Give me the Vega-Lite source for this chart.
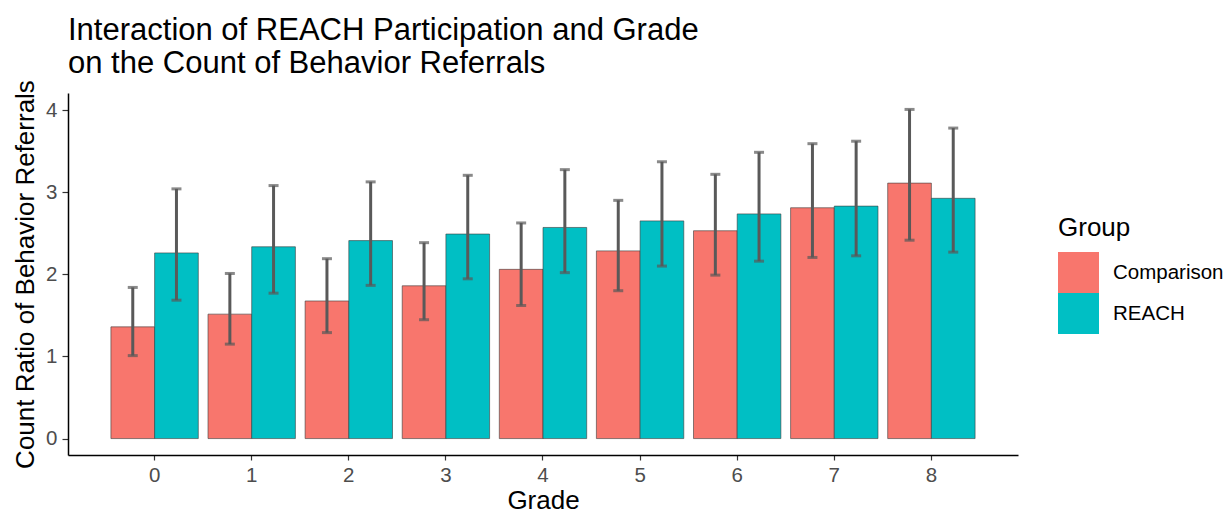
{
  "$schema": "https://vega.github.io/schema/vega-lite/v6.json",
  "width": 950,
  "height": 362,
  "autosize": {"type": "none"},
  "padding": {"left": 68, "top": 93, "right": 210, "bottom": 59},
  "background": "white",
  "config": {
    "font": "Liberation Sans",
    "view": {"stroke": null}
  },
  "title": {
    "text": ["Interaction of REACH Participation and Grade", "on the Count of Behavior Referrals"],
    "fontSize": 31,
    "fontWeight": "normal",
    "color": "black",
    "anchor": "start",
    "frame": "group",
    "lineHeight": 33,
    "offset": 0
  },
  "data": {
    "values": [
      {"grade": "0", "group": "Comparison", "ratio": 1.36, "lo": 1.01, "hi": 1.84},
      {"grade": "0", "group": "REACH", "ratio": 2.26, "lo": 1.685, "hi": 3.04},
      {"grade": "1", "group": "Comparison", "ratio": 1.515, "lo": 1.15, "hi": 2.01},
      {"grade": "1", "group": "REACH", "ratio": 2.335, "lo": 1.77, "hi": 3.08},
      {"grade": "2", "group": "Comparison", "ratio": 1.675, "lo": 1.29, "hi": 2.19},
      {"grade": "2", "group": "REACH", "ratio": 2.41, "lo": 1.865, "hi": 3.125},
      {"grade": "3", "group": "Comparison", "ratio": 1.86, "lo": 1.447, "hi": 2.385},
      {"grade": "3", "group": "REACH", "ratio": 2.49, "lo": 1.945, "hi": 3.205},
      {"grade": "4", "group": "Comparison", "ratio": 2.06, "lo": 1.62, "hi": 2.625},
      {"grade": "4", "group": "REACH", "ratio": 2.57, "lo": 2.02, "hi": 3.274},
      {"grade": "5", "group": "Comparison", "ratio": 2.285, "lo": 1.8, "hi": 2.9},
      {"grade": "5", "group": "REACH", "ratio": 2.65, "lo": 2.1, "hi": 3.37},
      {"grade": "6", "group": "Comparison", "ratio": 2.53, "lo": 1.99, "hi": 3.217},
      {"grade": "6", "group": "REACH", "ratio": 2.735, "lo": 2.16, "hi": 3.485},
      {"grade": "7", "group": "Comparison", "ratio": 2.81, "lo": 2.205, "hi": 3.59},
      {"grade": "7", "group": "REACH", "ratio": 2.83, "lo": 2.225, "hi": 3.62},
      {"grade": "8", "group": "Comparison", "ratio": 3.11, "lo": 2.415, "hi": 4.007},
      {"grade": "8", "group": "REACH", "ratio": 2.925, "lo": 2.27, "hi": 3.78}
    ]
  },
  "encoding": {
    "x": {
      "field": "grade",
      "type": "nominal",
      "scale": {"paddingInner": 0.1, "paddingOuter": 0.442},
      "axis": {
        "title": "Grade",
        "titleFontSize": 26,
        "titleFontWeight": "normal",
        "titleColor": "black",
        "titlePadding": 2,
        "labelAngle": 0,
        "labelFontSize": 20.5,
        "labelColor": "#4D4D4D",
        "labelPadding": 5,
        "domainColor": "black",
        "domainWidth": 1.5,
        "tickColor": "#333333",
        "tickSize": 5,
        "tickWidth": 1.2,
        "grid": false
      }
    },
    "xOffset": {"field": "group", "type": "nominal"}
  },
  "layer": [
    {
      "mark": {"type": "bar", "stroke": "#3a3a3a", "strokeWidth": 0.6},
      "encoding": {
        "y": {
          "field": "ratio",
          "type": "quantitative",
          "scale": {"domain": [-0.2, 4.207], "nice": false, "zero": false},
          "axis": {
            "title": "Count Ratio of Behavior Referrals",
            "titleFontSize": 26,
            "titleFontWeight": "normal",
            "titleColor": "black",
            "titlePadding": 7,
            "values": [0, 1, 2, 3, 4],
            "format": "d",
            "labelFontSize": 20.5,
            "labelColor": "#4D4D4D",
            "labelPadding": 5,
            "domainColor": "black",
            "domainWidth": 1.5,
            "tickColor": "#333333",
            "tickSize": 6,
            "tickWidth": 1.2,
            "grid": false
          }
        },
        "y2": {"datum": 0},
        "fill": {
          "field": "group",
          "type": "nominal",
          "scale": {"domain": ["Comparison", "REACH"], "range": ["#F8766D", "#00BFC4"]},
          "legend": {
            "title": "Group",
            "titleFontSize": 26,
            "titleFontWeight": "normal",
            "titleColor": "black",
            "titlePadding": 11,
            "labelFontSize": 20.5,
            "labelColor": "black",
            "labelOffset": 14,
            "symbolType": "square",
            "symbolSize": 1681,
            "symbolStrokeWidth": 0,
            "rowPadding": 0,
            "orient": "none",
            "legendX": 990,
            "legendY": 122
          }
        }
      }
    },
    {
      "mark": {"type": "rule", "color": "#595959", "strokeWidth": 3},
      "encoding": {
        "y": {"field": "lo", "type": "quantitative"},
        "y2": {"field": "hi"}
      }
    },
    {
      "mark": {"type": "tick", "color": "#595959", "size": 10, "thickness": 3},
      "encoding": {
        "y": {"field": "lo", "type": "quantitative"}
      }
    },
    {
      "mark": {"type": "tick", "color": "#595959", "size": 10, "thickness": 3},
      "encoding": {
        "y": {"field": "hi", "type": "quantitative"}
      }
    }
  ]
}
